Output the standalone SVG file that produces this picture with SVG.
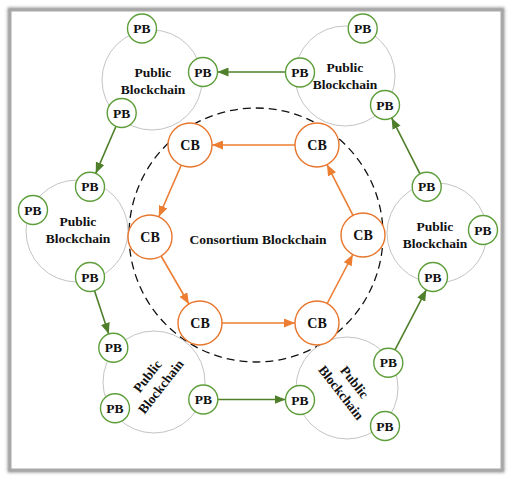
<svg xmlns="http://www.w3.org/2000/svg" width="512" height="481" viewBox="0 0 512 481">
<defs>
<filter id="sh" x="-5%" y="-5%" width="110%" height="110%"><feGaussianBlur stdDeviation="1.6"/></filter>
<marker id="ao" markerUnits="userSpaceOnUse" markerWidth="11" markerHeight="9" refX="11" refY="4.5" orient="auto"><path d="M0,0 L11,4.5 L0,9 z" fill="#ED7D31"/></marker>
<marker id="ag" markerUnits="userSpaceOnUse" markerWidth="11" markerHeight="9" refX="11" refY="4.5" orient="auto"><path d="M0,0 L11,4.5 L0,9 z" fill="#4F7F2A"/></marker>
</defs>
<style>
text{font-family:"Liberation Serif","Times New Roman",serif;font-weight:bold;fill:#111;text-anchor:middle}
.pbc{fill:none;stroke:#c4c4c4;stroke-width:1}
.pb{fill:#fff;stroke:#5E9E3A;stroke-width:1.4}
.cb{fill:#fff;stroke:#E8772E;stroke-width:1.4}
.pbt{font-size:13.5px}
.cbt{font-size:14px}
.lbl{font-size:13.5px}
.ol{stroke:#ED7D31;stroke-width:1.6;fill:none;marker-end:url(#ao)}
.gl{stroke:#4F7F2A;stroke-width:1.6;fill:none;marker-end:url(#ag)}
</style>
<rect width="512" height="481" fill="#fff"/>
<rect x="10" y="10" width="492" height="460" fill="none" stroke="#9a9a9a" stroke-width="5" filter="url(#sh)"/>
<rect x="10" y="10" width="492" height="460" fill="#fff" stroke="#a8a8a8" stroke-width="3"/>

<g id="consortium">
<circle cx="256" cy="235" r="127" fill="none" stroke="#111" stroke-width="1.3" stroke-dasharray="8,5"/>
<text class="lbl" x="258" y="244">Consortium Blockchain</text>
</g>

<g id="public-tl"><circle class="pbc" cx="152" cy="80" r="50"/><text class="lbl" x="153" y="77">Public</text><text class="lbl" x="153" y="94">Blockchain</text></g>
<g id="public-tr"><circle class="pbc" cx="345" cy="76" r="50"/><text class="lbl" x="345" y="72">Public</text><text class="lbl" x="345" y="89">Blockchain</text></g>
<g id="public-l"><circle class="pbc" cx="77" cy="231" r="51"/><text class="lbl" x="78" y="226">Public</text><text class="lbl" x="78" y="243">Blockchain</text></g>
<g id="public-r"><circle class="pbc" cx="437" cy="233" r="50"/><text class="lbl" x="435" y="231">Public</text><text class="lbl" x="435" y="248">Blockchain</text></g>
<g id="public-bl"><circle class="pbc" cx="154" cy="382" r="51"/><g transform="rotate(-52 155 382)"><text class="lbl" x="155" y="377">Public</text><text class="lbl" x="155" y="394">Blockchain</text></g></g>
<g id="public-br"><circle class="pbc" cx="347" cy="388" r="51"/><g transform="rotate(52 347 388)"><text class="lbl" x="347" y="383">Public</text><text class="lbl" x="347" y="400">Blockchain</text></g></g>

<g id="connectors">
<line class="ol" x1="295" y1="145" x2="212" y2="145"/>
<line class="ol" x1="181.2" y1="165.2" x2="158.8" y2="216.8"/>
<line class="ol" x1="161.1" y1="256" x2="188.9" y2="304"/>
<line class="ol" x1="222" y1="323" x2="295" y2="323"/>
<line class="ol" x1="327.2" y1="303.5" x2="352.8" y2="254.5"/>
<line class="ol" x1="353" y1="215.4" x2="327" y2="164.6"/>
<line class="gl" x1="285.5" y1="72" x2="217.5" y2="72"/>
<line class="gl" x1="116" y1="126.3" x2="95.7" y2="173.4"/>
<line class="gl" x1="94.5" y1="290.8" x2="108.8" y2="333.9"/>
<line class="gl" x1="217.8" y1="399.5" x2="285.5" y2="399.5"/>
<line class="gl" x1="395" y1="349.9" x2="426.3" y2="289.8"/>
<line class="gl" x1="420" y1="173.8" x2="391.6" y2="117.9"/>
</g>

<g id="cb-tl"><circle class="cb" cx="190" cy="145" r="22"/><text class="cbt" x="190" y="150">CB</text></g>
<g id="cb-tr"><circle class="cb" cx="317" cy="145" r="22"/><text class="cbt" x="317" y="150">CB</text></g>
<g id="cb-l"><circle class="cb" cx="150" cy="237" r="22"/><text class="cbt" x="150" y="242">CB</text></g>
<g id="cb-r"><circle class="cb" cx="363" cy="235" r="22"/><text class="cbt" x="363" y="240">CB</text></g>
<g id="cb-bl"><circle class="cb" cx="200" cy="323" r="22"/><text class="cbt" x="200" y="328">CB</text></g>
<g id="cb-br"><circle class="cb" cx="317" cy="323" r="22"/><text class="cbt" x="317" y="328">CB</text></g>

<g id="pb-tl-1"><circle class="pb" cx="142" cy="28.5" r="14.5"/><text class="pbt" x="142" y="33">PB</text></g>
<g id="pb-tl-2"><circle class="pb" cx="203" cy="72" r="14.5"/><text class="pbt" x="203" y="76.5">PB</text></g>
<g id="pb-tl-3"><circle class="pb" cx="121.7" cy="113" r="14.5"/><text class="pbt" x="121.7" y="117.5">PB</text></g>
<g id="pb-tr-1"><circle class="pb" cx="362.7" cy="28.5" r="14.5"/><text class="pbt" x="362.7" y="33">PB</text></g>
<g id="pb-tr-2"><circle class="pb" cx="300" cy="72.5" r="14.5"/><text class="pbt" x="300" y="77">PB</text></g>
<g id="pb-tr-3"><circle class="pb" cx="385" cy="105" r="14.5"/><text class="pbt" x="385" y="109.5">PB</text></g>
<g id="pb-l-1"><circle class="pb" cx="90" cy="186.7" r="14.5"/><text class="pbt" x="90" y="191.2">PB</text></g>
<g id="pb-l-2"><circle class="pb" cx="33" cy="210" r="14.5"/><text class="pbt" x="33" y="214.5">PB</text></g>
<g id="pb-l-3"><circle class="pb" cx="90" cy="277" r="14.5"/><text class="pbt" x="90" y="281.5">PB</text></g>
<g id="pb-r-1"><circle class="pb" cx="426.7" cy="186.7" r="14.5"/><text class="pbt" x="426.7" y="191.2">PB</text></g>
<g id="pb-r-2"><circle class="pb" cx="483" cy="230" r="14.5"/><text class="pbt" x="483" y="234.5">PB</text></g>
<g id="pb-r-3"><circle class="pb" cx="433" cy="277" r="14.5"/><text class="pbt" x="433" y="281.5">PB</text></g>
<g id="pb-bl-1"><circle class="pb" cx="113.3" cy="347.7" r="14.5"/><text class="pbt" x="113.3" y="352.2">PB</text></g>
<g id="pb-bl-2"><circle class="pb" cx="115" cy="408.3" r="14.5"/><text class="pbt" x="115" y="412.8">PB</text></g>
<g id="pb-bl-3"><circle class="pb" cx="203.3" cy="399.5" r="14.5"/><text class="pbt" x="203.3" y="404">PB</text></g>
<g id="pb-br-1"><circle class="pb" cx="388.3" cy="362.7" r="14.5"/><text class="pbt" x="388.3" y="367.2">PB</text></g>
<g id="pb-br-2"><circle class="pb" cx="300" cy="400" r="14.5"/><text class="pbt" x="300" y="404.5">PB</text></g>
<g id="pb-br-3"><circle class="pb" cx="385" cy="426" r="14.5"/><text class="pbt" x="385" y="430.5">PB</text></g>
</svg>
